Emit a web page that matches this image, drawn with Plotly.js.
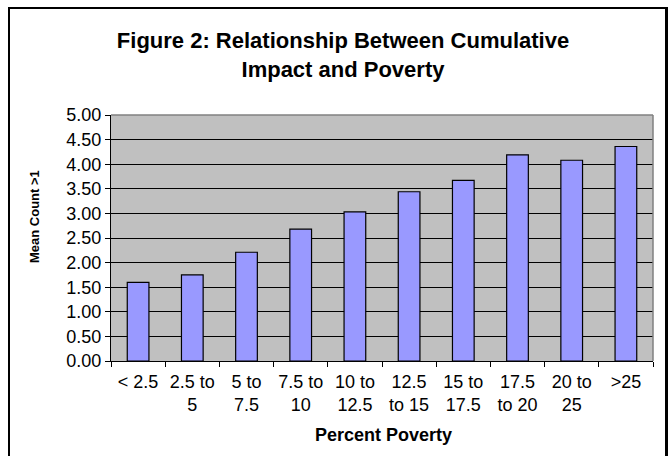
<!DOCTYPE html>
<html>
<head>
<meta charset="utf-8">
<script src="https://cdn.plot.ly/plotly-3.0.1.min.js"></script>
<style>
  html, body { margin: 0; padding: 0; background: #fff; }
  #wrap { position: relative; width: 670px; height: 456px; }
  #chart { width: 670px; height: 456px; }
  #frame { position: absolute; left: 8px; top: 7px; width: 655px; height: 460px;
           border-left: 2px solid #000; border-top: 2px solid #000; border-right: 3px solid #000;
           pointer-events: none; }
</style>
</head>
<body>
<div id="wrap">
  <div id="chart"></div>
  <div id="frame"></div>
</div>
<script>
const categories = ["< 2.5", "2.5 to<br>5", "5 to<br>7.5", "7.5 to<br>10", "10 to<br>12.5",
                    "12.5<br>to 15", "15 to<br>17.5", "17.5<br>to 20", "20 to<br>25", ">25"];
const meanCount = [1.60, 1.75, 2.21, 2.68, 3.03, 3.44, 3.67, 4.19, 4.08, 4.36];
const yTickVals = [0, 0.5, 1, 1.5, 2, 2.5, 3, 3.5, 4, 4.5, 5];

const FONT = "Arial, 'Liberation Sans', sans-serif";

const trace = {
  type: "bar",
  x: categories,
  y: meanCount,
  marker: { color: "#9999FF", line: { color: "#000000", width: 1.2 } },
  hoverinfo: "x+y"
};

const layout = {
  width: 670, height: 456,
  margin: { l: 111, r: 17, t: 115, b: 95 },
  paper_bgcolor: "#FFFFFF",
  plot_bgcolor: "#C0C0C0",
  bargap: 0.6,
  showlegend: false,
  font: { family: FONT, size: 18, color: "#000" },
  title: {
    text: "<b>Figure 2: Relationship Between Cumulative<br>Impact and Poverty</b>",
    font: { family: FONT, size: 22, color: "#000" },
    x: 343 / 670, xanchor: "center", xref: "container",
    y: 1 - 48 / 456, yanchor: "top", yref: "container"
  },
  xaxis: {
    type: "category",
    tickson: "boundaries",
    ticks: "outside", ticklen: 5, tickcolor: "#000", tickwidth: 1,
    showline: true, linecolor: "#000", linewidth: 1,
    showgrid: false,
    tickfont: { family: FONT, size: 18 },
    ticklabelstandoff: 4,
    fixedrange: true
  },
  yaxis: {
    range: [0, 5],
    tickvals: yTickVals,
    tickformat: ".2f",
    ticks: "outside", ticklen: 5, tickcolor: "#000", tickwidth: 1,
    showline: true, linecolor: "#000", linewidth: 1,
    showgrid: true, gridcolor: "#000", gridwidth: 1,
    zeroline: false,
    tickfont: { family: FONT, size: 18 },
    fixedrange: true
  },
  shapes: [
    { type: "line", xref: "paper", yref: "paper", x0: 0, x1: 1, y0: 1, y1: 1,
      line: { color: "#808080", width: 1.5 }, layer: "above" },
    { type: "line", xref: "paper", yref: "paper", x0: 1, x1: 1, y0: 0, y1: 1,
      line: { color: "#808080", width: 1.5 }, layer: "above" }
  ],
  annotations: [
    { text: "<b>Mean Count >1</b>", xref: "paper", yref: "paper",
      x: (34 - 111) / 542, y: (361 - 217) / 246, textangle: -90,
      showarrow: false, xanchor: "center", yanchor: "middle",
      font: { family: FONT, size: 13 } },
    { text: "<b>Percent Poverty</b>", xref: "paper", yref: "paper",
      x: (383 - 111) / 542, y: (361 - 435) / 246,
      showarrow: false, xanchor: "center", yanchor: "middle",
      font: { family: FONT, size: 18 } }
  ]
};

Plotly.newPlot("chart", [trace], layout, { displayModeBar: false, staticPlot: true });
</script>
</body>
</html>
